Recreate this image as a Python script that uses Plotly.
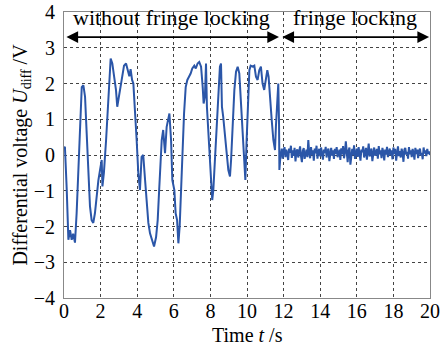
import numpy as np
import plotly.graph_objects as go

# Unlocked part (without fringe locking): time (s) and differential voltage (V)
t_free = [0.0, 0.05, 0.15, 0.24, 0.33, 0.42, 0.5, 0.6, 0.69, 0.78, 0.87, 0.97, 1.06, 1.15, 1.24,
          1.33, 1.42, 1.51, 1.6, 1.69, 1.79, 1.88, 1.97, 2.06, 2.1, 2.18, 2.3, 2.39, 2.48, 2.55,
          2.64, 2.75, 2.84, 2.91, 3.0, 3.15, 3.28, 3.39, 3.5, 3.57, 3.64, 3.72, 3.79, 3.88, 3.97,
          4.06, 4.15, 4.24, 4.33, 4.43, 4.52, 4.61, 4.7, 4.79, 4.92, 5.03, 5.12, 5.2, 5.28, 5.34,
          5.42, 5.52, 5.61, 5.7, 5.76, 5.85, 5.92, 6.03, 6.1, 6.18, 6.25, 6.32, 6.39, 6.47, 6.56,
          6.65, 6.74, 6.83, 6.92, 7.01, 7.12, 7.2, 7.3, 7.39, 7.49, 7.58, 7.63, 7.7, 7.76, 7.81,
          7.92, 8.03, 8.1, 8.16, 8.25, 8.34, 8.43, 8.52, 8.58, 8.63, 8.7, 8.8, 8.89, 8.98, 9.07,
          9.13, 9.22, 9.31, 9.4, 9.49, 9.58, 9.67, 9.76, 9.85, 9.91, 9.98, 10.05, 10.13, 10.2,
          10.31, 10.4, 10.49, 10.58, 10.67, 10.76, 10.85, 10.94, 11.04, 11.11, 11.18, 11.26,
          11.35, 11.44, 11.53, 11.58, 11.66, 11.71, 11.75, 11.77, 11.84]
v_free = [0.2, 0.23, -0.98, -2.37, -2.1, -2.37, -2.2, -2.45, -1.63, -0.5, 0.9, 1.9, 1.95, 1.63, 0.6,
          -0.5, -1.44, -1.82, -1.9, -1.63, -1.07, -0.7, -0.42, -0.14, -0.88, -0.5, 0.42, 1.35, 2.28, 2.7,
          2.56, 2.19, 1.82, 1.35, 1.63, 2.19, 2.5, 2.56, 2.37, 2.2, 2.4, 2.1, 2.0, 1.35, 0.42,
          -0.5, -0.98, -0.05, 0.0, -0.7, -1.44, -1.9, -2.19, -2.37, -2.56, -2.3, -1.82, -0.98, -0.05, 0.42,
          0.7, 0.05, 0.79, 0.98, 1.16, 0.42, -0.7, -0.98, -1.63, -1.82, -2.47, -2.0, -0.98, 0.14, 1.16,
          1.9, 2.1, 2.19, 2.28, 2.42, 2.5, 2.42, 2.56, 2.6, 2.47, 1.9, 1.44, 1.63, 2.56, 1.35,
          0.42, -0.7, -1.26, -0.98, -0.05, 0.88, 1.82, 2.47, 2.56, 1.35, 1.07, 0.42, 0.05, -0.42, -0.6,
          -0.14, 0.88, 1.82, 2.33, 2.47, 2.28, 1.54, 0.6, -0.14, -0.7, 0.42, 1.54, 2.37, 2.5,
          2.47, 2.5, 2.19, 2.1, 2.37, 2.47, 2.0, 1.82, 2.19, 2.37, 2.19, 1.72,
          0.98, 0.42, 0.14, 0.79, 1.54, 2.0, 0.88, -0.42, 0.05]

# Locked part (fringe locking): sampled every 0.05 s starting at 11.85 s
t_lock_start = 11.85
t_lock_step = 0.05
v_lock = [0.02, 0.18, -0.10, 0.12, 0.22, -0.06, 0.15, 0.04, -0.14, 0.18,
          0.06, 0.26, -0.08, 0.13, -0.02, 0.20, -0.18, 0.10, 0.16, -0.07,
          0.05, 0.24, -0.03, -0.20, 0.12, 0.19, -0.11, 0.04, 0.15, -0.06,
          0.42, 0.06, -0.09, 0.22, 0.00, 0.13, -0.16, 0.18, 0.05, 0.26,
          -0.10, 0.10, 0.17, -0.04, 0.21, 0.02, -0.13, 0.15, 0.06, 0.23,
          -0.07, 0.11, 0.18, -0.17, 0.05, 0.20, -0.02, 0.13, -0.11, 0.17,
          0.03, 0.22, -0.06, 0.10, 0.15, -0.14, 0.19, 0.02, 0.25, -0.09,
          0.06, 0.38, -0.01, -0.20, 0.13, 0.21, -0.27, 0.05, 0.17, 0.00,
          0.27, -0.11, 0.12, 0.18, -0.05, 0.22, 0.03, -0.16, 0.15, 0.08,
          0.24, -0.07, 0.06, 0.20, -0.13, 0.13, 0.32, -0.04, 0.05, 0.18,
          -0.17, 0.12, 0.21, -0.02, 0.06, 0.17, -0.10, 0.25, 0.02, 0.13,
          -0.09, 0.20, 0.08, -0.15, 0.15, 0.01, 0.23, -0.06, 0.06, 0.18,
          -0.01, 0.13, -0.12, 0.21, 0.03, 0.17, -0.16, 0.08, 0.24, -0.03,
          0.11, -0.07, 0.18, 0.05, -0.19, 0.15, 0.20, 0.01, 0.09, -0.10,
          0.22, 0.02, 0.13, -0.06, 0.17, 0.06, -0.13, 0.20, 0.03, 0.15,
          -0.09, 0.11, 0.18, -0.01, 0.06, -0.12, 0.21, 0.04, 0.13, -0.03,
          0.17, 0.03, 0.10, 0.00]
t_lock = [round(t_lock_start + t_lock_step * i, 3) for i in range(len(v_lock))]

t_all = t_free + t_lock
v_all = v_free + v_lock

# Region labels and arrow extents
label_free = "without fringe locking"
label_lock = "fringe locking"
x_title = "Time <i>t</i> /s"
switch_t = 11.8
arrow_v = 3.3
label_v = 3.85

FONT = "Liberation Serif"

fig = go.Figure()
fig.add_trace(go.Scatter(x=t_all, y=v_all, mode="lines",
                         line=dict(color="#2b56a8", width=2), showlegend=False))

fig.update_xaxes(range=[0, 20], dtick=2, tick0=0, automargin=False,
                 showgrid=True, gridcolor="#444444", griddash="dot", gridwidth=1,
                 showline=True, linecolor="#888888", linewidth=1, mirror=True,
                 zeroline=False, ticks="", ticklabelstandoff=-5,
                 tickfont=dict(family=FONT, size=20, color="black"))
fig.update_yaxes(range=[-4, 4], dtick=1, tick0=0, automargin=False,
                 showgrid=True, gridcolor="#444444", griddash="dot", gridwidth=1,
                 showline=True, linecolor="#888888", linewidth=1, mirror=True,
                 zeroline=False, ticks="outside", ticklen=4, tickcolor="rgba(0,0,0,0)",
                 tickfont=dict(family=FONT, size=20, color="black"),
                 title=dict(text="Differential voltage <i>U</i><sub>diff</sub> /V",
                            font=dict(family=FONT, size=20, color="black"), standoff=0))

# x-axis title placed below the tick labels
fig.add_annotation(x=0.5, y=-0.13, xref="paper", yref="paper", text=x_title,
                   showarrow=False, yanchor="middle",
                   font=dict(family=FONT, size=20, color="black"))

# double-headed arrows
for x0, x1 in [(0.05, switch_t - 0.05), (switch_t + 0.05, 19.95)]:
    fig.add_annotation(x=x1, y=arrow_v, ax=x0, ay=arrow_v, xref="x", yref="y",
                       axref="x", ayref="y", text="", showarrow=True,
                       arrowhead=2, startarrowhead=2, arrowside="end+start",
                       arrowsize=1.3, startarrowsize=1.3, arrowwidth=1.8, arrowcolor="black")

fig.add_annotation(x=5.9, y=label_v, xref="x", yref="y", text=label_free, showarrow=False,
                   font=dict(family=FONT, size=22, color="black"))
fig.add_annotation(x=15.9, y=label_v, xref="x", yref="y", text=label_lock, showarrow=False,
                   font=dict(family=FONT, size=22, color="black"))

fig.update_layout(width=440, height=345, margin=dict(l=64, r=10, t=12, b=47),
                  paper_bgcolor="white", plot_bgcolor="white")

fig.write_html("out.html")
